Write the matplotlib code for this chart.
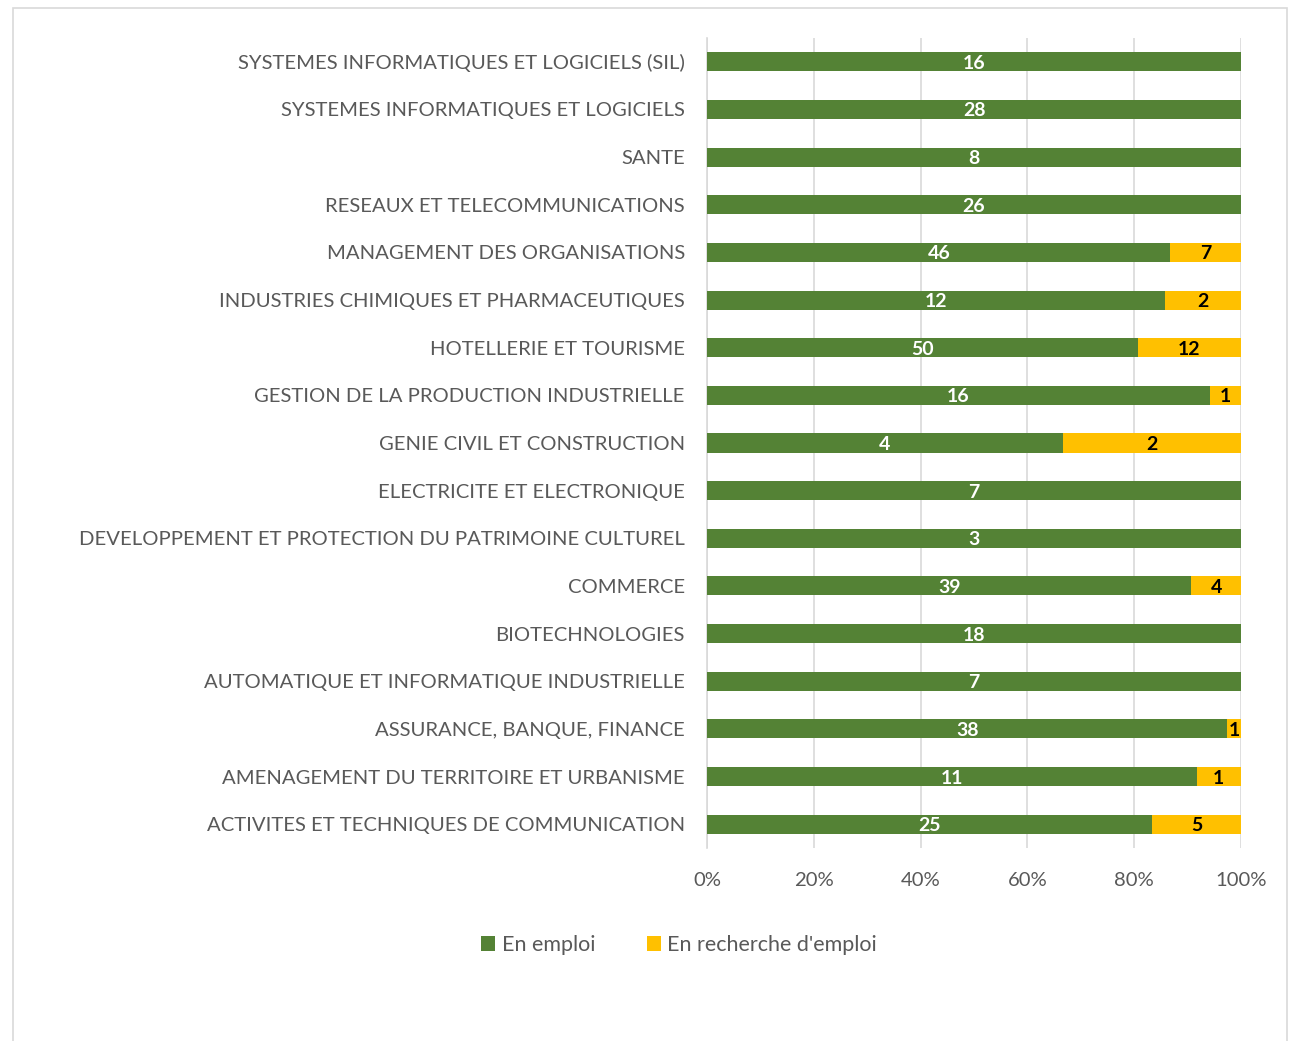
import matplotlib
matplotlib.use("Agg")
import matplotlib.pyplot as plt
from matplotlib.patches import Rectangle
import numpy as np

plt.rcParams['font.family'] = ['Lato', 'DejaVu Sans']

categories = [
    "ACTIVITES ET TECHNIQUES DE COMMUNICATION",
    "AMENAGEMENT DU TERRITOIRE ET URBANISME",
    "ASSURANCE, BANQUE, FINANCE",
    "AUTOMATIQUE ET INFORMATIQUE INDUSTRIELLE",
    "BIOTECHNOLOGIES",
    "COMMERCE",
    "DEVELOPPEMENT ET PROTECTION DU PATRIMOINE CULTUREL",
    "ELECTRICITE ET ELECTRONIQUE",
    "GENIE CIVIL ET CONSTRUCTION",
    "GESTION DE LA PRODUCTION INDUSTRIELLE",
    "HOTELLERIE ET TOURISME",
    "INDUSTRIES CHIMIQUES ET PHARMACEUTIQUES",
    "MANAGEMENT DES ORGANISATIONS",
    "RESEAUX ET TELECOMMUNICATIONS",
    "SANTE",
    "SYSTEMES INFORMATIQUES ET LOGICIELS",
    "SYSTEMES INFORMATIQUES ET LOGICIELS (SIL)",
]
en_emploi = [25, 11, 38, 7, 18, 39, 3, 7, 4, 16, 50, 12, 46, 26, 8, 28, 16]
en_recherche = [5, 1, 1, 0, 0, 4, 0, 0, 2, 1, 12, 2, 7, 0, 0, 0, 0]
series_names = ["En emploi", "En recherche d'emploi"]
tick_labels = ["0%", "20%", "40%", "60%", "80%", "100%"]

green = "#548235"
yellow = "#FFC000"
text_gray = "#595959"
grid_gray = "#d9d9d9"

emp = np.array(en_emploi, dtype=float)
rec = np.array(en_recherche, dtype=float)
tot = emp + rec
p_emp = emp / tot
p_rec = rec / tot

fig = plt.figure(figsize=(12.96, 10.41), dpi=100)
fig.patches.append(Rectangle((13/1296, -0.01), (1287-13)/1296, 1 - 8/1041 + 0.01,
                             transform=fig.transFigure, fill=False,
                             edgecolor=grid_gray, linewidth=1.2))
ax = fig.add_axes([707/1296, 1 - 848/1041, (1241-707)/1296, (848-38)/1041])

y = np.arange(len(categories))
h = 0.4
ax.barh(y, p_emp, height=h, color=green, label=series_names[0], zorder=3)
ax.barh(y, p_rec, left=p_emp, height=h, color=yellow, label=series_names[1], zorder=3)

for i in range(len(categories)):
    ax.text(p_emp[i] / 2, y[i], f"{int(emp[i])}", ha='center', va='center_baseline',
            color='white', fontsize=14, fontweight='bold', zorder=4)
    if rec[i] > 0:
        ax.text(p_emp[i] + p_rec[i] / 2, y[i], f"{int(rec[i])}", ha='center',
                va='center_baseline', color='black', fontsize=14, fontweight='bold', zorder=4)

ax.set_xlim(0, 1)
ax.set_ylim(-0.5, len(categories) - 0.5)
ax.set_xticks(np.linspace(0, 1, 6))
ax.set_xticklabels(tick_labels, fontsize=14.6, color=text_gray)
ax.set_yticks(y)
ax.set_yticklabels(categories, fontsize=14.6, color=text_gray)
ax.tick_params(axis='both', length=0)
ax.tick_params(axis='x', pad=17)
ax.tick_params(axis='y', pad=16)
ax.xaxis.grid(True, color=grid_gray, linewidth=1.2, zorder=0)
ax.set_axisbelow(True)
for s in ['top', 'right', 'bottom']:
    ax.spines[s].set_visible(False)
ax.spines['left'].set_color(grid_gray)
ax.spines['left'].set_linewidth(1.2)

leg = fig.legend(loc='center', bbox_to_anchor=(679/1296, 1 - 945/1041), ncol=2,
                 frameon=False, fontsize=15.5, handlelength=0.65, handleheight=0.65,
                 handletextpad=0.3, columnspacing=2.4)
for t in leg.get_texts():
    t.set_color(text_gray)

fig.savefig("out.png", dpi=100)
